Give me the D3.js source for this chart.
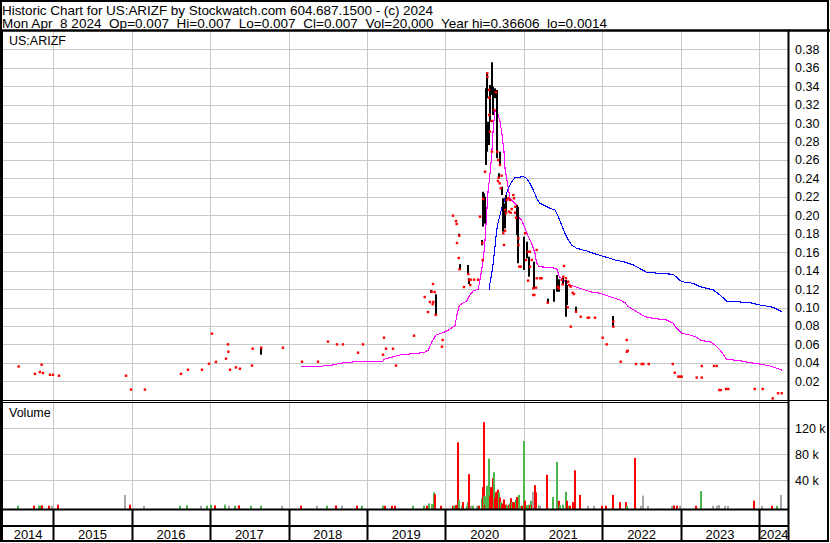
<!DOCTYPE html>
<html><head><meta charset="utf-8">
<script src="https://cdn.jsdelivr.net/npm/d3@7"></script>
<style>
body{margin:0;background:#fff;}
svg{display:block;font-family:"Liberation Sans",Arial,sans-serif;}
text{white-space:pre;}
</style></head><body>
<script>
// ---------- DATA (decimal years, prices in $, volume in thousands) ----------
const headerLine1 = "Historic Chart for US:ARIZF by Stockwatch.com 604.687.1500 - (c) 2024";
const headerLine2 = "Mon Apr  8 2024  Op=0.007  Hi=0.007  Lo=0.007  Cl=0.007  Vol=20,000  Year hi=0.36606  lo=0.0014";
const symbol = "US:ARIZF";
const years = [2014,2015,2016,2017,2018,2019,2020,2021,2022,2023,2024];
const priceTicks = [0.02,0.04,0.06,0.08,0.10,0.12,0.14,0.16,0.18,0.20,0.22,0.24,0.26,0.28,0.30,0.32,0.34,0.36,0.38];
const volumeTicks = [40,80,120];

const priceDots = [
[2014.559,0.036],[2014.767,0.028],[2014.830,0.030],[2014.852,0.038],[2014.869,0.029],[2014.958,0.027],[2014.996,0.027],[2015.073,0.026],
[2015.927,0.026],[2015.991,0.011],[2016.169,0.011],[2016.628,0.028],[2016.717,0.0325],[2016.896,0.0325],[2016.985,0.039],
[2017.023,0.0716],[2017.074,0.041],[2017.202,0.0445],[2017.227,0.060],[2017.233,0.052],[2017.253,0.0325],[2017.329,0.035],[2017.380,0.0336],
[2017.533,0.037],[2017.542,0.0553],[2017.652,0.0564],[2017.928,0.0564],[2018.171,0.0412],[2018.375,0.0412],[2018.502,0.063],[2018.617,0.060],
[2018.693,0.060],[2018.885,0.051],[2018.948,0.060],[2019.203,0.0488],[2019.216,0.0672],[2019.242,0.0553],[2019.331,0.0553],[2019.369,0.037],[2019.599,0.0694],
[2019.735,0.1114],[2019.777,0.0951],[2019.802,0.106],[2019.824,0.1172],[2019.837,0.1035],[2019.841,0.1255],[2019.845,0.106],[2019.862,0.1168],
[2019.875,0.0919],[2019.955,0.0575],[2019.964,0.0648],
[2020.096,0.1996],[2020.134,0.1938],[2020.143,0.1906],[2020.147,0.170],[2020.169,0.1537],[2020.176,0.178],[2020.179,0.1414],[2020.236,0.1222],
[2020.291,0.1363],[2020.300,0.1298],[2020.316,0.1244],[2020.321,0.1302],[2020.364,0.1302],[2020.414,0.1302],[2020.440,0.1985],[2020.469,0.170],
[2020.474,0.1515],[2020.482,0.2177],[2020.504,0.2473],[2020.533,0.354],[2020.535,0.350],[2020.555,0.3359],[2020.556,0.3276],[2020.557,0.3088],
[2020.567,0.2907],[2020.589,0.3023],[2020.593,0.269],[2020.622,0.3142],[2020.644,0.3334],[2020.660,0.269],[2020.673,0.26],[2020.678,0.2408],
[2020.669,0.2372],[2020.691,0.2347],[2020.695,0.2546],[2020.704,0.2293],[2020.716,0.243],[2020.737,0.1805],[2020.746,0.1678],[2020.759,0.1833],
[2020.760,0.2058],[2020.771,0.2022],[2020.780,0.2166],[2020.801,0.2184],[2020.809,0.204],[2020.822,0.2166],[2020.831,0.2028],[2020.844,0.2068],
[2020.864,0.222],[2020.873,0.2184],[2020.886,0.2028],[2020.890,0.2093],[2020.899,0.1974],[2020.929,0.175],[2020.930,0.1678],[2020.941,0.1443],[2020.959,0.1443],
[2021.014,0.1805],[2021.026,0.1515],[2021.052,0.1605],[2021.053,0.1291],[2021.077,0.1605],[2021.078,0.1443],[2021.099,0.1515],[2021.119,0.1208],
[2021.120,0.1136],[2021.132,0.1136],[2021.154,0.1215],[2021.162,0.1624],[2021.163,0.1317],[2021.205,0.1317],[2021.226,0.1317],[2021.303,0.1052],
[2021.434,0.1226],[2021.443,0.1208],[2021.481,0.130],[2021.494,0.125],[2021.502,0.1334],[2021.511,0.145],[2021.536,0.1317],[2021.558,0.1002],
[2021.565,0.128],[2021.578,0.1244],[2021.596,0.1226],[2021.597,0.0792],[2021.622,0.116],[2021.638,0.1146],[2021.664,0.0954],[2021.724,0.090],
[2021.813,0.0889],[2021.830,0.0889],[2021.906,0.0889],
[2022.004,0.0672],[2022.055,0.060],[2022.139,0.0846],[2022.140,0.0792],[2022.234,0.0412],[2022.310,0.0648],[2022.312,0.052],[2022.323,0.0531],
[2022.429,0.0387],[2022.501,0.0387],[2022.522,0.0387],[2022.591,0.0387],[2022.897,0.0387],[2022.922,0.0293],[2022.968,0.025],[2022.990,0.025],
[2023.011,0.025],[2023.202,0.024],[2023.266,0.024],[2023.267,0.0366],[2023.423,0.0366],[2023.458,0.0366],[2023.491,0.0105],[2023.509,0.0105],
[2023.576,0.0116],[2023.605,0.0116],[2023.942,0.0116],[2024.044,0.0116],[2024.171,0.0014],[2024.239,0.007],[2024.286,0.007]
];

const priceBars = [ // [t, high, low]
[2017.652,0.0568,0.0488],[2019.820,0.119,0.116],[2019.875,0.1143,0.0919],[2020.176,0.180,0.177],[2020.179,0.147,0.1414],
[2020.291,0.1461,0.1363],[2020.304,0.1317,0.1255],[2020.469,0.1732,0.1675],[2020.474,0.2255,0.2122],[2020.482,0.2203,0.1877],
[2020.491,0.2239,0.1913],[2020.504,0.2202,0.1913],[2020.517,0.3377,0.2546],[2020.533,0.354,0.327],[2020.535,0.3015,0.269],
[2020.551,0.3015,0.2762],[2020.567,0.3413,0.3015],[2020.589,0.3413,0.3305],[2020.597,0.366,0.334],[2020.609,0.3395,0.3088],
[2020.631,0.3377,0.327],[2020.653,0.3359,0.262],[2020.678,0.2456,0.2401],[2020.695,0.269,0.2546],[2020.716,0.231,0.222],
[2020.729,0.2184,0.1876],[2020.737,0.2112,0.1822],[2020.759,0.2129,0.1858],[2020.771,0.222,0.204],[2020.908,0.2112,0.1913],
[2020.916,0.1967,0.1786],[2020.920,0.2093,0.148],[2021.001,0.1768,0.1407],[2021.035,0.1714,0.1534],[2021.068,0.1551,0.1334],
[2021.132,0.1497,0.1208],[2021.303,0.1096,0.1052],[2021.387,0.1197,0.1063],[2021.425,0.1352,0.1171],[2021.451,0.1306,0.1171],
[2021.502,0.1334,0.1244],[2021.532,0.1298,0.090],[2021.545,0.1244,0.1027],[2021.660,0.1009,0.0954],[2022.139,0.0908,0.0792]
];

const ma50 = [
[2018.158,0.0362],[2018.438,0.0362],[2018.440,0.0373],[2018.566,0.0376],[2018.655,0.0395],[2018.783,0.0406],[2018.910,0.0416],[2019.203,0.0416],
[2019.216,0.0438],[2019.293,0.0456],[2019.356,0.0471],[2019.420,0.0485],[2019.547,0.0496],[2019.675,0.0507],[2019.739,0.0517],[2019.781,0.0539],
[2019.824,0.0623],[2019.879,0.0702],[2019.972,0.0727],[2020.036,0.0756],[2020.121,0.0803],[2020.150,0.0937],[2020.176,0.1024],[2020.270,0.107],
[2020.312,0.1136],[2020.354,0.118],[2020.418,0.1197],[2020.461,0.1407],[2020.482,0.1515],[2020.504,0.1732],[2020.525,0.2022],[2020.546,0.231],
[2020.558,0.2364],[2020.589,0.2654],[2020.609,0.2944],[2020.631,0.3124],[2020.653,0.3142],[2020.673,0.3088],[2020.695,0.3015],[2020.716,0.2907],
[2020.746,0.269],[2020.759,0.251],[2020.780,0.240],[2020.801,0.2293],[2020.822,0.2184],[2020.864,0.2148],[2020.908,0.2112],[2020.928,0.1985],
[2020.971,0.1949],[2021.014,0.1859],[2021.056,0.1768],[2021.099,0.1696],[2021.141,0.1588],[2021.163,0.148],[2021.196,0.1443],[2021.332,0.1432],
[2021.418,0.1425],[2021.451,0.1334],[2021.502,0.1298],[2021.545,0.1262],[2021.587,0.1244],[2021.715,0.1208],[2021.842,0.1171],[2021.970,0.1154],
[2022.097,0.1117],[2022.225,0.1081],[2022.288,0.1052],[2022.330,0.1009],[2022.437,0.0954],[2022.543,0.090],[2022.649,0.0883],[2022.820,0.0864],
[2022.904,0.0829],[2022.947,0.0774],[2023.011,0.072],[2023.117,0.0702],[2023.202,0.0677],[2023.266,0.064],[2023.372,0.0629],[2023.436,0.0593],
[2023.499,0.0539],[2023.563,0.0466],[2023.585,0.0438],[2023.754,0.0423],[2023.882,0.0401],[2024.010,0.0387],[2024.137,0.0366],[2024.286,0.0322]
];

const ma200 = [
[2020.558,0.119],[2020.567,0.1262],[2020.589,0.1371],[2020.609,0.148],[2020.631,0.166],[2020.653,0.184],[2020.673,0.193],[2020.716,0.2076],
[2020.759,0.2184],[2020.801,0.2293],[2020.844,0.2364],[2020.886,0.2408],[2020.992,0.2419],[2021.035,0.2401],[2021.077,0.2347],[2021.119,0.2274],
[2021.163,0.2184],[2021.205,0.213],[2021.269,0.2104],[2021.332,0.2076],[2021.396,0.2057],[2021.438,0.1985],[2021.481,0.1895],[2021.523,0.1805],
[2021.566,0.1732],[2021.609,0.1678],[2021.673,0.1642],[2021.800,0.1613],[2021.884,0.1588],[2022.055,0.1544],[2022.161,0.1515],[2022.267,0.1497],
[2022.395,0.1461],[2022.565,0.1382],[2022.735,0.137],[2022.904,0.136],[2023.011,0.128],[2023.159,0.1262],[2023.244,0.1226],[2023.414,0.119],
[2023.499,0.1136],[2023.585,0.107],[2023.712,0.1063],[2023.882,0.1052],[2024.010,0.1027],[2024.180,0.1002],[2024.286,0.0954]
];

const volumes = [ // [t, volume (k), direction u/d/n]
[2014.546,0.5,"u"],[2014.750,0.5,"d"],[2014.818,0.5,"u"],[2014.834,0.5,"u"],[2014.856,1,"d"],[2014.941,0.5,"d"],[2014.980,0.3,"n"],[2015.060,2,"d"],
[2015.914,17,"n"],[2015.978,2,"d"],[2016.152,0.3,"n"],[2016.615,0.3,"u"],[2016.701,1,"u"],[2016.883,0.3,"n"],[2016.963,0.3,"u"],[2017.010,2,"u"],
[2017.061,1,"d"],[2017.189,2,"u"],[2017.236,0.3,"n"],[2017.313,0.3,"u"],[2017.364,1,"d"],[2017.520,0.3,"u"],[2017.648,0.5,"u"],[2017.916,0.3,"n"],
[2018.154,0.3,"d"],[2018.362,0.3,"n"],[2018.486,0.3,"u"],[2018.600,1,"d"],[2018.677,0.3,"n"],[2018.868,0.3,"d"],[2018.935,0.3,"u"],[2019.199,0.5,"u"],
[2019.229,0.3,"d"],[2019.314,0.3,"d"],[2019.356,0.3,"d"],[2019.589,0.3,"u"],[2019.726,0.5,"u"],[2019.760,0.3,"d"],[2019.790,4,"u"],[2019.824,3,"u"],
[2019.853,21,"u"],[2019.866,18,"d"],[2019.939,0.3,"d"],[2020.092,0.3,"d"],[2020.112,0.3,"u"],[2020.130,1.5,"d"],[2020.155,98,"d"],[2020.172,9,"u"],
[2020.206,0.3,"u"],[2020.219,6,"d"],[2020.270,0.3,"u"],[2020.291,6,"u"],[2020.300,49,"d"],[2020.325,0.5,"n"],[2020.347,0.3,"u"],[2020.398,0.3,"n"],
[2020.418,0.3,"u"],[2020.427,0.3,"d"],[2020.461,12,"u"],[2020.478,29,"d"],[2020.487,129,"d"],[2020.495,15,"u"],[2020.508,2,"d"],[2020.521,15,"u"],
[2020.533,31,"u"],[2020.551,73,"u"],[2020.567,15,"d"],[2020.580,29,"d"],[2020.593,29,"d"],[2020.605,43,"d"],[2020.618,52,"u"],[2020.631,12,"d"],
[2020.644,21,"d"],[2020.657,22,"d"],[2020.669,25,"d"],[2020.686,21,"u"],[2020.699,13,"d"],[2020.711,6,"u"],[2020.724,2,"d"],[2020.737,4,"d"],
[2020.750,10,"d"],[2020.767,2,"d"],[2020.788,0.5,"u"],[2020.806,2,"d"],[2020.822,4,"u"],[2020.835,12,"d"],[2020.848,6,"u"],[2020.864,6,"d"],
[2020.886,6,"d"],[2020.899,10,"u"],[2020.912,14,"d"],[2020.937,17,"u"],[2020.954,0.3,"u"],[2020.975,0.3,"d"],[2020.997,100,"u"],[2021.014,8,"d"],
[2021.035,1,"u"],[2021.061,2,"u"],[2021.077,1,"d"],[2021.090,8,"u"],[2021.107,2,"d"],[2021.116,22,"n"],[2021.137,32,"d"],[2021.154,21,"d"],
[2021.188,1,"u"],[2021.205,0.3,"n"],[2021.294,48,"d"],[2021.374,14,"u"],[2021.418,68,"u"],[2021.447,8,"d"],[2021.464,1,"u"],[2021.494,2,"u"],
[2021.536,22,"u"],[2021.553,8,"d"],[2021.574,0.3,"u"],[2021.587,0.3,"d"],[2021.622,6,"d"],[2021.651,55,"d"],[2021.715,17,"d"],[2021.813,0.3,"n"],
[2021.893,0.3,"n"],[2021.991,0.3,"d"],[2022.042,0.3,"d"],[2022.132,17,"d"],[2022.221,6,"d"],[2022.301,6,"d"],[2022.314,0.3,"u"],[2022.416,74,"d"],
[2022.489,0.3,"n"],[2022.513,16,"n"],[2022.576,0.3,"n"],[2022.887,0.3,"n"],[2022.912,1,"d"],[2022.947,0.3,"d"],[2022.989,0.5,"n"],[2023.190,0.3,"d"],
[2023.257,23,"u"],[2023.414,0.3,"n"],[2023.458,0.3,"n"],[2023.487,1.5,"n"],[2023.563,0.3,"n"],[2023.598,0.3,"n"],[2023.933,8,"d"],[2024.035,0.3,"n"],
[2024.163,0.3,"d"],[2024.222,0.3,"u"],[2024.277,17,"n"]
];

// ---------- LAYOUT ----------
const W = 830, H = 543;
const plotL = 3, plotR = 789;
const priceTop = 31, priceBot = 400;
const volTop = 403, volBot = 509;
const axisMid = 526, frameBot = 541;
const domainStart = 2014.3595, domainEnd = 2024.379;

const svg = d3.select("body").append("svg").attr("width", W).attr("height", H);

const x = d3.scaleLinear().domain([domainStart, domainEnd]).range([plotL, plotR]);
const yP = d3.scaleLinear().domain([0, 0.40]).range([399.7, 30.9]);
const yV = d3.scaleLinear().domain([0, 160]).range([506, 402]);

const gridColor = "#c8c8c8";

// price gridlines (horizontal)
svg.append("g").attr("transform", `translate(${plotL},0)`)
  .call(d3.axisRight(yP).tickValues(priceTicks).tickSize(plotR - plotL).tickFormat(""))
  .call(g => g.select(".domain").remove())
  .call(g => g.selectAll("line").attr("stroke", gridColor).attr("shape-rendering","crispEdges"));

// volume gridlines
svg.append("g").attr("transform", `translate(${plotL},0)`)
  .call(d3.axisRight(yV).tickValues(volumeTicks).tickSize(plotR - plotL).tickFormat(""))
  .call(g => g.select(".domain").remove())
  .call(g => g.selectAll("line").attr("stroke", gridColor).attr("shape-rendering","crispEdges"));

// vertical year gridlines
const yearBounds = years.filter(y => y > domainStart && y < domainEnd);
svg.append("g").selectAll("line").data(yearBounds).join("line")
  .attr("x1", d => Math.round(x(d)) + 0.5).attr("x2", d => Math.round(x(d)) + 0.5)
  .attr("y1", priceTop).attr("y2", volBot)
  .attr("stroke", gridColor);

// price axis labels
svg.append("g").attr("transform", `translate(${plotR + 6},0)`)
  .call(d3.axisRight(yP).tickValues(priceTicks).tickSize(0).tickPadding(0).tickFormat(d3.format(".2f")))
  .call(g => g.select(".domain").remove())
  .call(g => g.selectAll("text").attr("font-size", 12.5).attr("font-family", "Liberation Sans, Arial, sans-serif").attr("fill", "#000"));

// volume axis labels
svg.append("g").attr("transform", `translate(${plotR + 6},0)`)
  .call(d3.axisRight(yV).tickValues(volumeTicks).tickSize(0).tickPadding(0).tickFormat(d => d + " k"))
  .call(g => g.select(".domain").remove())
  .call(g => g.selectAll("text").attr("font-size", 12.5).attr("font-family", "Liberation Sans, Arial, sans-serif").attr("fill", "#000"));

// volume bars
const volColor = {u: "#4cb54c", d: "#ff0000", n: "#a8a8a8"};
svg.append("g").selectAll("rect").data(volumes).join("rect")
  .attr("x", d => Math.round(x(d[0])) - 1)
  .attr("width", 2)
  .attr("y", d => yV(d[1]))
  .attr("height", d => volBot - yV(d[1]))
  .attr("fill", d => volColor[d[2]]);

// moving averages
const line = d3.line().x(d => x(d[0])).y(d => yP(d[1]));
svg.append("path").datum(ma50).attr("d", line).attr("fill", "none").attr("stroke", "#ff00ff").attr("stroke-width", 1.1).attr("shape-rendering", "crispEdges");
svg.append("path").datum(ma200).attr("d", line).attr("fill", "none").attr("stroke", "#0000ff").attr("stroke-width", 1.1).attr("shape-rendering", "crispEdges");

// hi-lo bars
svg.append("g").selectAll("rect").data(priceBars).join("rect")
  .attr("x", d => Math.round(x(d[0])) - 1)
  .attr("width", 2)
  .attr("y", d => yP(d[1]))
  .attr("height", d => Math.max(1, yP(d[2]) - yP(d[1])))
  .attr("fill", "#000");

// single-price days
svg.append("g").selectAll("rect").data(priceDots).join("rect")
  .attr("x", d => x(d[0]) - 1.2)
  .attr("y", d => yP(d[1]) - 1.2)
  .attr("width", 2.4).attr("height", 2.4)
  .attr("fill", "#ff0000");

// ---------- FRAME ----------
const blk = "#000";
function hline(y, x1, x2, w) { svg.append("line").attr("x1", x1).attr("x2", x2).attr("y1", y).attr("y2", y).attr("stroke", blk).attr("stroke-width", w); }
function vline(xx, y1, y2, w) { svg.append("line").attr("x1", xx).attr("x2", xx).attr("y1", y1).attr("y2", y2).attr("stroke", blk).attr("stroke-width", w); }

svg.append("rect").attr("x", 1).attr("y", 1).attr("width", 827).attr("height", 540)
  .attr("fill", "none").attr("stroke", blk).attr("stroke-width", 2);
hline(30.5, 0, W, 2.5);
vline(1.5, 30, frameBot, 3);
vline(788.5, 30, frameBot + 1, 2);
hline(400.5, 0, 828, 1);
hline(402.5, 0, 789, 1);
hline(509.5, 0, 789, 2);
hline(526, 0, 789, 2);

// year separators on time axis
svg.append("g").selectAll("line").data(yearBounds).join("line")
  .attr("x1", d => Math.round(x(d)) + 0.5).attr("x2", d => Math.round(x(d)) + 0.5)
  .attr("y1", volBot).attr("y2", frameBot)
  .attr("stroke", blk).attr("stroke-width", 2);

// year labels centred in their band
svg.append("g").selectAll("text").data(years).join("text")
  .attr("x", d => (x(Math.max(d, domainStart)) + x(Math.min(d + 1, domainEnd))) / 2)
  .attr("y", 539)
  .attr("text-anchor", "middle")
  .attr("font-size", 13)
  .text(d => d);

// ---------- TEXT ----------
svg.append("text").attr("x", 2).attr("y", 14.5).attr("font-size", 13.5)
  .attr("textLength", 431).attr("lengthAdjust", "spacing").text(headerLine1);
svg.append("text").attr("x", 2).attr("y", 28).attr("font-size", 13.5)
  .attr("textLength", 605).attr("lengthAdjust", "spacing").text(headerLine2);
svg.append("text").attr("x", 9).attr("y", 45).attr("font-size", 12.5).text(symbol);
svg.append("text").attr("x", 9).attr("y", 417).attr("font-size", 12.5).text("Volume");
</script>
</body></html>
